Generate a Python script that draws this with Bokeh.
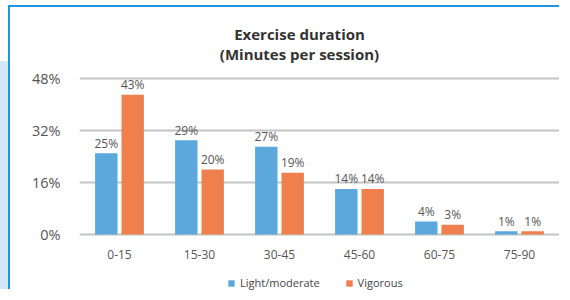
from bokeh.plotting import figure
from bokeh.models import ColumnDataSource, FactorRange, Range1d, Label, Legend, LegendItem
from bokeh.transform import dodge
from bokeh.core.properties import value
from bokeh.embed import file_html
from bokeh.resources import INLINE

categories = ["0-15", "15-30", "30-45", "45-60", "60-75", "75-90"]
light = [25, 29, 27, 14, 4, 1]
vigorous = [43, 20, 19, 14, 3, 1]
series_names = ["Light/moderate", "Vigorous"]
y_ticks = [0, 16, 32, 48]
y_tick_labels = ["0%", "16%", "32%", "48%"]
title_lines = ["Exercise duration", "(Minutes per session)"]

BLUE = "#5aa8dc"
ORANGE = "#f07f4e"
GRID = "#c4c4c4"
FONT = "Open Sans"

src = ColumnDataSource(dict(
    cat=categories,
    light=light,
    vig=vigorous,
    light_lbl=[f"{v}%" for v in light],
    vig_lbl=[f"{v}%" for v in vigorous],
))

p = figure(width=551, height=284,
           x_range=FactorRange(*categories),
           y_range=Range1d(-17.54, 66.15),
           x_axis_location=None,
           output_backend="svg", toolbar_location=None,
           min_border_left=69, min_border_right=2,
           min_border_top=12, min_border_bottom=0)
p.outline_line_color = None
p.background_fill_color = "white"
p.border_fill_color = "white"

off = 0.165
w = 0.28
r1 = p.vbar(x=dodge("cat", -off, range=p.x_range), top="light", width=w, source=src,
            fill_color=BLUE, line_color=None)
r2 = p.vbar(x=dodge("cat", off, range=p.x_range), top="vig", width=w, source=src,
            fill_color=ORANGE, line_color=None)

for col, lbl, o in (("light", "light_lbl", -off), ("vig", "vig_lbl", off)):
    p.text(x=dodge("cat", o, range=p.x_range), y=col, text=lbl, source=src,
           text_align="center", text_baseline="middle", y_offset=-10,
           text_font=value(FONT), text_font_size="12px", text_color="#555555")

# category labels under the 0% line
p.text(x="cat", y=0, text="cat", source=src, y_offset=20,
       text_align="center", text_baseline="middle",
       text_font=value(FONT), text_font_size="12px", text_color="#555555")

p.xgrid.grid_line_color = None
p.ygrid.ticker = y_ticks
p.ygrid.grid_line_color = GRID
p.ygrid.grid_line_width = 2

p.yaxis.ticker = y_ticks
p.yaxis.major_label_overrides = {t: l for t, l in zip(y_ticks, y_tick_labels)}
p.yaxis.axis_line_color = None
p.yaxis.major_tick_line_color = None
p.yaxis.minor_tick_line_color = None
p.yaxis.major_label_standoff = 13
p.yaxis.major_label_text_font = FONT
p.yaxis.major_label_text_font_size = "14.5px"
p.yaxis.major_label_text_color = "#555555"

for txt, yy in zip(title_lines, (258, 238)):
    p.add_layout(Label(x=220, y=yy, x_units="screen", y_units="screen", text=txt,
                       text_align="center", text_baseline="middle",
                       text_font=FONT, text_font_size="15px", text_font_style="bold",
                       text_color="#333333"))

legend = Legend(items=[LegendItem(label=series_names[0], renderers=[r1]),
                       LegendItem(label=series_names[1], renderers=[r2])],
                orientation="horizontal", location=(148, 1))
legend.glyph_width = 8
legend.glyph_height = 8
legend.label_text_font = FONT
legend.label_text_font_size = "11px"
legend.label_text_color = "#444444"
legend.padding = 0
legend.margin = 0
legend.spacing = 25
legend.label_standoff = 5
legend.border_line_color = None
legend.background_fill_alpha = 0
p.add_layout(legend)

p.styles = {
    "margin-left": "8px",
    "margin-top": "5px",
    "border-left": "2px solid #2196e0",
    "border-top": "2px solid #2196e0",
    "box-shadow": "-40px 28px 0 -28px #d3e9f6",
}

open("out.html", "w").write(file_html(p, INLINE))
